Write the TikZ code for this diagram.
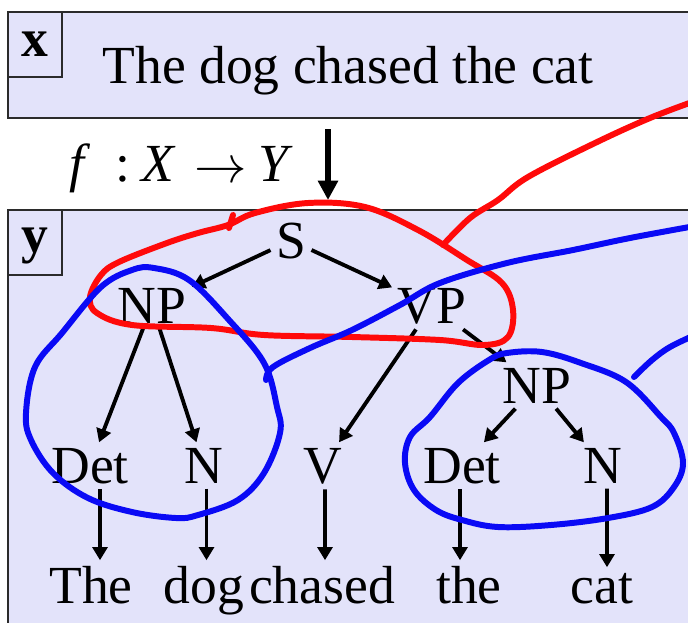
\documentclass[tikz,border=0pt]{standalone}
\usepackage{fontspec}
\usepackage{graphicx}
\setmainfont{Liberation Serif}
\usetikzlibrary{arrows.meta}
\definecolor{panelFill}{HTML}{E3E3FA}
\definecolor{panelEdge}{HTML}{2B2B2B}
\definecolor{inkRed}{HTML}{FF0A0A}
\definecolor{inkBlue}{HTML}{0A0AF5}
\newcommand{\bigserif}{\fontsize{30.5}{33}\selectfont}

\begin{document}
\begin{tikzpicture}[x=0.02cm, y=-0.02cm,
      panel/.style={draw=panelEdge, line width=1.1pt, fill=panelFill},
      tag/.style={inner sep=3pt, anchor=base, font=\bigserif},
      word/.style={inner sep=3pt, anchor=base, font=\bigserif},
      branch/.style={-{Triangle[length=7.5pt, width=8.5pt]}, line width=2.2pt},
      scribble/.style={line width=3.4pt, line cap=round, line join=round}]
    \useasboundingbox (0,0) rectangle (688,622);
    \clip (0,0) rectangle (688,622);
    \fill[white] (0,0) rectangle (688,622);
    \draw[panel] (8,12) rectangle (705,118);
    \draw[panel] (8,12) rectangle (62,77);
    \node[font=\bigserif\bfseries] (xlab) at (35,44) {x};
    \node[word] (xtext) at (348,83) {The dog chased the cat};
    \node[word, anchor=base west] (fmap) at (64,181)
      {\textit{f}\hspace{0.5cm}:\hspace{0.22cm}\textit{X}\hspace{0.36cm}\raisebox{-0.03cm}{\scalebox{1.2}{$\rightarrow$}}\hspace{0.24cm}\textit{Y}};
    \coordinate (mapFrom) at (328,129);
    \coordinate (mapTo) at (328,200);
    \draw[-{Triangle[length=11pt, width=11pt]}, line width=3pt] (mapFrom) -- (mapTo);
    \draw[panel] (8,210) rectangle (705,640);
    \draw[panel] (8,210) rectangle (62,275);
    \node[font=\bigserif\bfseries] (ylab) at (35,246) {y};

    \node[tag] (s) at (291,258) {S};
    \node[tag] (np) at (152,323) {NP};
    \node[tag] (vp) at (432,323) {VP};
    \node[tag] (npb) at (537,403) {NP};
    \node[tag] (det) at (90,483) {Det};
    \node[tag] (n) at (204,483) {N};
    \node[tag] (v) at (323,483) {V};
    \node[tag] (detb) at (462,483) {Det};
    \node[tag] (nb) at (603,483) {N};
    \node[word] (wThe) at (91,603) {The};
    \node[word] (wdog) at (204,603) {dog};
    \node[word] (wchased) at (322,603) {chased};
    \node[word] (wthe) at (469,603) {the};
    \node[word] (wcat) at (602,603) {cat};

    \draw[branch] (s) -- (np);
    \draw[branch] (s) -- (vp);
    \draw[branch] (np) -- (det);
    \draw[branch] (np) -- (n);
    \draw[branch] (vp) -- (v);
    \draw[branch] (vp) -- (npb);
    \draw[branch] (npb) -- (detb);
    \draw[branch] (npb) -- (nb);
    \draw[branch] ([xshift=0.2cm]det.south) -- ([xshift=0.18cm]wThe.north);
    \draw[branch] ([xshift=0.05cm]n.south) -- ([xshift=0.05cm]wdog.north);
    \draw[branch] ([xshift=0.04cm]v.south) -- ([xshift=0.06cm]wchased.north);
    \draw[branch] ([xshift=-0.04cm]detb.south) -- ([xshift=-0.18cm]wthe.north);
    \draw[branch] ([xshift=0.08cm]nb.south) -- ([xshift=0.1cm]wcat.north);

    \draw[scribble, inkRed] plot[smooth cycle, tension=0.6] coordinates {
      (228,225) (255,213) (308,203) (365,207) (418,230) (467,260) (502,283)
      (513,310) (508,337) (484,345) (440,340) (352,337) (264,335) (211,328)
      (132,325) (97,313) (90,297) (101,275) (119,262) (167,243) (198,233)};
    \draw[scribble, inkRed] (229,228) -- (233,215);
    \draw[scribble, inkRed] plot[smooth, tension=0.6] coordinates {
      (443,245) (470,218) (498,200) (528,177) (595,143) (650,118) (695,101)};

    \draw[scribble, inkBlue] plot[smooth cycle, tension=0.6] coordinates {
      (154,268) (189,280) (229,320) (264,363) (277,407) (280,433) (264,473)
      (238,500) (198,515) (176,518) (132,512) (88,498) (53,473) (31,440)
      (26,413) (35,367) (62,333) (101,287) (132,270)};
    \draw[scribble, inkBlue] plot[smooth, tension=0.6] coordinates {
      (266,380) (273,367) (310,348) (352,330) (400,305) (440,283) (507,263)
      (573,250) (630,238) (695,226)};
    \draw[scribble, inkBlue] plot[smooth cycle, tension=0.6] coordinates {
      (507,353) (542,352) (581,363) (626,382) (661,417) (674,433) (683,463)
      (674,487) (652,507) (608,518) (551,525) (498,527) (462,520) (436,510)
      (414,490) (405,463) (410,437) (430,417) (458,383) (489,360)};
    \draw[scribble, inkBlue] plot[smooth, tension=0.6] coordinates {
      (634,377) (652,360) (670,347) (695,335)};
  \end{tikzpicture}
\end{document}
